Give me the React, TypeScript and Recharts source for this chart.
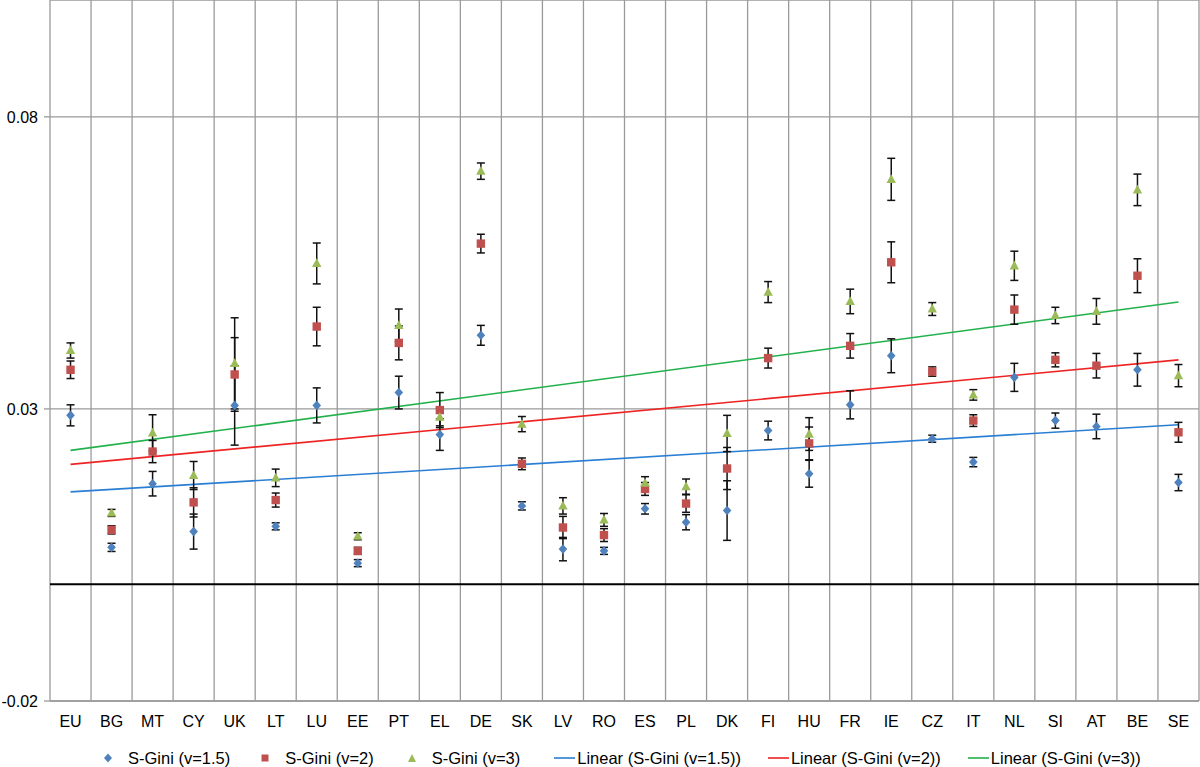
import React from 'react';
import {
  ComposedChart,
  Scatter,
  Line,
  XAxis,
  YAxis,
  CartesianGrid,
  ReferenceLine,
  ErrorBar,
  Legend,
} from 'recharts';

const FONT = '"Liberation Sans", Arial, Helvetica, sans-serif';

const categories = ['EU', 'BG', 'MT', 'CY', 'UK', 'LT', 'LU', 'EE', 'PT', 'EL', 'DE', 'SK', 'LV', 'RO', 'ES', 'PL', 'DK', 'FI', 'HU', 'FR', 'IE', 'CZ', 'IT', 'NL', 'SI', 'AT', 'BE', 'SE'];

const sGini15 = [0.0289, 0.0063, 0.0172, 0.0090, 0.0306, 0.0099, 0.0306, 0.0036, 0.0328, 0.0256, 0.0426, 0.0134, 0.0060, 0.0057, 0.0129, 0.0106, 0.0126, 0.0263, 0.0189, 0.0307, 0.0391, 0.0249, 0.0209, 0.0354, 0.0280, 0.0270, 0.0367, 0.0174];
const sGini15Err = [0.0018, 0.0007, 0.0021, 0.0030, 0.0068, 0.0006, 0.0030, 0.0006, 0.0028, 0.0027, 0.0017, 0.0007, 0.0020, 0.0006, 0.0009, 0.0013, 0.0051, 0.0016, 0.0023, 0.0024, 0.0029, 0.0006, 0.0008, 0.0024, 0.0013, 0.0021, 0.0028, 0.0014];

const sGini2 = [0.0367, 0.0093, 0.0227, 0.0140, 0.0359, 0.0144, 0.0441, 0.0057, 0.0413, 0.0298, 0.0583, 0.0206, 0.0097, 0.0084, 0.0163, 0.0138, 0.0198, 0.0387, 0.0241, 0.0408, 0.0551, 0.0364, 0.0280, 0.0470, 0.0384, 0.0374, 0.0528, 0.0260];
const sGini2Err = [0.0015, 0.0007, 0.0019, 0.0025, 0.0063, 0.0012, 0.0033, 0.0006, 0.0029, 0.0030, 0.0016, 0.0010, 0.0019, 0.0011, 0.0011, 0.0015, 0.0036, 0.0017, 0.0028, 0.0021, 0.0035, 0.0008, 0.0010, 0.0025, 0.0012, 0.0021, 0.0029, 0.0017];

const sGini3 = [0.0400, 0.0122, 0.0259, 0.0186, 0.0378, 0.0182, 0.0549, 0.0082, 0.0443, 0.0286, 0.0707, 0.0274, 0.0134, 0.0110, 0.0173, 0.0167, 0.0258, 0.0500, 0.0257, 0.0484, 0.0693, 0.0471, 0.0324, 0.0545, 0.0460, 0.0467, 0.0675, 0.0357];
const sGini3Err = [0.0013, 0.0006, 0.0031, 0.0024, 0.0078, 0.0015, 0.0035, 0.0006, 0.0028, 0.0015, 0.0014, 0.0013, 0.0014, 0.0011, 0.0011, 0.0013, 0.0031, 0.0018, 0.0028, 0.0021, 0.0036, 0.0011, 0.0009, 0.0025, 0.0014, 0.0022, 0.0027, 0.0019];

// Linear trend lines: values at first (EU) and last (SE) category
const trend15 = [0.0158, 0.0273];
const trend2 = [0.0205, 0.0384];
const trend3 = [0.0229, 0.0483];

const yTicks = [-0.02, 0.03, 0.08];
const yDomain = [-0.02, 0.1];

const COLORS = {
  m15: '#4F81BD',
  m2: '#C0504D',
  m3: '#9BBB59',
  t15: '#2A7FD4',
  t2: '#EE2424',
  t3: '#22B14C',
};

const last = categories.length - 1;
const data = categories.map((name, i) => ({
  idx: i,
  name,
  v15: sGini15[i],
  e15: sGini15Err[i],
  v2: sGini2[i],
  e2: sGini2Err[i],
  v3: sGini3[i],
  e3: sGini3Err[i],
  t15: i === 0 ? trend15[0] : i === last ? trend15[1] : null,
  t2: i === 0 ? trend2[0] : i === last ? trend2[1] : null,
  t3: i === 0 ? trend3[0] : i === last ? trend3[1] : null,
}));

const boundaries = Array.from({ length: categories.length + 1 }, (_, i) => i - 0.5);
const xTicks = categories.map((_, i) => i);

const Diamond = (props: any) => {
  const { cx, cy } = props;
  if (cx == null || cy == null) return null;
  return <polygon points={`${cx},${cy - 4.8} ${cx + 4.3},${cy} ${cx},${cy + 4.8} ${cx - 4.3},${cy}`} fill={COLORS.m15} />;
};
const Square = (props: any) => {
  const { cx, cy } = props;
  if (cx == null || cy == null) return null;
  return <rect x={cx - 4.2} y={cy - 4.2} width={8.4} height={8.4} fill={COLORS.m2} />;
};
const Triangle = (props: any) => {
  const { cx, cy } = props;
  if (cx == null || cy == null) return null;
  return <polygon points={`${cx},${cy - 5.2} ${cx + 4.7},${cy + 3.6} ${cx - 4.7},${cy + 3.6}`} fill={COLORS.m3} />;
};

const legendItems = [
  { kind: 'diamond', color: COLORS.m15, label: 'S-Gini (v=1.5)', after: 31 },
  { kind: 'square', color: COLORS.m2, label: 'S-Gini (v=2)', after: 34 },
  { kind: 'triangle', color: COLORS.m3, label: 'S-Gini (v=3)', after: 34 },
  { kind: 'line', color: COLORS.t15, label: 'Linear (S-Gini (v=1.5))', after: 27 },
  { kind: 'line', color: COLORS.t2, label: 'Linear (S-Gini (v=2))', after: 27 },
  { kind: 'line', color: COLORS.t3, label: 'Linear (S-Gini (v=3))', after: 0 },
];

const LegendIcon = ({ kind, color }: { kind: string; color: string }) => {
  if (kind === 'line') {
    return (
      <svg width={21} height={10} style={{ marginRight: 2, display: 'block' }}>
        <line x1={0} y1={5} x2={21} y2={5} stroke={color} strokeWidth={1.6} />
      </svg>
    );
  }
  let shape: React.ReactNode = null;
  if (kind === 'diamond') shape = <polygon points="4,0.5 8,5 4,9.5 0,5" fill={color} />;
  if (kind === 'square') shape = <rect x={0.5} y={1.5} width={7} height={7} fill={color} />;
  if (kind === 'triangle') shape = <polygon points="4,1 8,9 0,9" fill={color} />;
  return (
    <svg width={8} height={10} style={{ marginRight: 16, display: 'block' }}>
      {shape}
    </svg>
  );
};

const renderLegend = () => (
  <div
    style={{
      display: 'flex',
      alignItems: 'center',
      paddingLeft: 104,
      height: 20,
      fontFamily: FONT,
      fontSize: 16.5,
      color: '#000',
      whiteSpace: 'nowrap',
    }}
  >
    {legendItems.map((it) => (
      <div key={it.label} style={{ display: 'flex', alignItems: 'center', marginRight: it.after }}>
        <LegendIcon kind={it.kind} color={it.color} />
        <span>{it.label}</span>
      </div>
    ))}
  </div>
);

export default function App() {
  return (
    <div style={{ position: 'absolute', left: 0, top: 0, width: 1200, height: 767, background: '#fff' }}>
      <ComposedChart
        width={1200}
        height={767}
        data={data}
        margin={{ top: 0, right: 1, left: 0, bottom: 36 }}
      >
        <CartesianGrid vertical={false} stroke="#9a9a9a" strokeWidth={1.3} />
        <XAxis
          dataKey="idx"
          type="number"
          domain={[-0.5, 27.5]}
          ticks={xTicks}
          interval={0}
          tickFormatter={(v: number) => categories[v] ?? ''}
          axisLine={{ stroke: '#9a9a9a', strokeWidth: 1.3 }}
          tickLine={false}
          tickSize={8}
          tickMargin={7}
          height={30}
          tick={{ fill: '#000', fontSize: 16, fontFamily: FONT }}
          allowDataOverflow
        />
        <YAxis
          type="number"
          domain={yDomain}
          ticks={yTicks}
          interval={0}
          width={50}
          tickFormatter={(v: number) => v.toFixed(2)}
          axisLine={false}
          tickLine={{ stroke: '#9a9a9a', strokeWidth: 1.3 }}
          tickSize={6}
          tickMargin={6}
          tick={{ fill: '#000', fontSize: 16, fontFamily: FONT }}
          allowDataOverflow
        />
        {boundaries.map((b) => (
          <ReferenceLine key={`b${b}`} x={b} stroke="#9a9a9a" strokeWidth={1.3} ifOverflow="visible" />
        ))}
        <ReferenceLine y={0} stroke="#000" strokeWidth={2} />
        <Line dataKey="t15" stroke={COLORS.t15} strokeWidth={1.6} dot={false} activeDot={false} connectNulls isAnimationActive={false} legendType="none" />
        <Line dataKey="t2" stroke={COLORS.t2} strokeWidth={1.6} dot={false} activeDot={false} connectNulls isAnimationActive={false} legendType="none" />
        <Line dataKey="t3" stroke={COLORS.t3} strokeWidth={1.6} dot={false} activeDot={false} connectNulls isAnimationActive={false} legendType="none" />
        <Scatter dataKey="v15" fill={COLORS.m15} shape={Diamond} isAnimationActive={false} legendType="none">
          <ErrorBar dataKey="e15" direction="y" width={4} stroke="#111" strokeWidth={1.5} />
        </Scatter>
        <Scatter dataKey="v2" fill={COLORS.m2} shape={Square} isAnimationActive={false} legendType="none">
          <ErrorBar dataKey="e2" direction="y" width={4} stroke="#111" strokeWidth={1.5} />
        </Scatter>
        <Scatter dataKey="v3" fill={COLORS.m3} shape={Triangle} isAnimationActive={false} legendType="none">
          <ErrorBar dataKey="e3" direction="y" width={4} stroke="#111" strokeWidth={1.5} />
        </Scatter>
        <Legend
          layout="horizontal"
          verticalAlign="middle"
          align="center"
          content={renderLegend}
          wrapperStyle={{ top: 748, left: 0, width: 1200, height: 20 }}
        />
      </ComposedChart>
    </div>
  );
}
